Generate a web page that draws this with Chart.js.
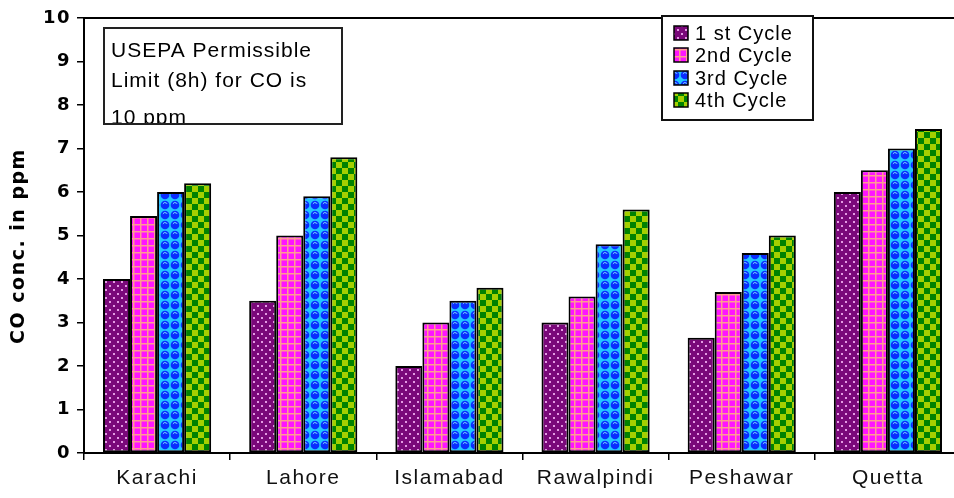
<!DOCTYPE html>
<html>
<head>
<meta charset="utf-8">
<script src="https://cdn.jsdelivr.net/npm/chart.js@4"></script>
<style>
  html, body { margin: 0; padding: 0; background: #fff; overflow: hidden; }
  #wrap { position: relative; width: 962px; height: 498px; }
</style>
</head>
<body>
<div id="wrap"><canvas id="chart"></canvas></div>
<script>
// Sampling sites
const cities = ['Karachi', 'Lahore', 'Islamabad', 'Rawalpindi', 'Peshawar', 'Quetta'];

// CO concentration (ppm) for each monitoring cycle
const cycle1 = [4.0, 3.5, 2.0, 3.0, 2.65, 6.0];
const cycle2 = [5.45, 5.0, 3.0, 3.6, 3.7, 6.5];
const cycle3 = [6.0, 5.9, 3.5, 4.8, 4.6, 7.0];
const cycle4 = [6.2, 6.8, 3.8, 5.6, 5.0, 7.45];

const seriesLabels = ['1 st Cycle', '2nd Cycle', '3rd Cycle', '4th Cycle'];
const yTicks = [0, 1, 2, 3, 4, 5, 6, 7, 8, 9, 10];
const axisTitle = 'CO conc. in ppm';
const noteLines = ['USEPA Permissible', 'Limit (8h) for CO is', '10 ppm'];

// Fill patterns for the four cycles
function makePattern(kind) {
  const c = document.createElement('canvas');
  const g = c.getContext('2d');
  if (kind === 'dots') {
    c.width = 8; c.height = 8;
    g.fillStyle = '#7a087a'; g.fillRect(0, 0, 8, 8);
    g.fillStyle = '#e49ae4';
    g.fillRect(1, 1, 2, 2); g.fillRect(5, 5, 2, 2);
  } else if (kind === 'grid') {
    c.width = 7; c.height = 7;
    g.fillStyle = '#ff14ff'; g.fillRect(0, 0, 7, 7);
    g.fillStyle = '#ff9c90';
    g.fillRect(0, 0, 7, 1.5); g.fillRect(0, 0, 1.5, 7);
  } else if (kind === 'bubbles') {
    c.width = 10; c.height = 10;
    g.fillStyle = '#22c4ff'; g.fillRect(0, 0, 10, 10);
    g.fillStyle = '#0a2cff';
    g.beginPath(); g.arc(5, 5, 4.3, 0, Math.PI * 2); g.fill();
    g.strokeStyle = '#7fdcff'; g.lineWidth = 1;
    g.beginPath(); g.arc(5, 5, 2.4, Math.PI * 1.15, Math.PI * 1.85); g.stroke();
  } else {
    c.width = 12; c.height = 12;
    g.fillStyle = '#a4d000'; g.fillRect(0, 0, 12, 12);
    g.fillStyle = '#008200';
    g.fillRect(0, 0, 6, 6); g.fillRect(6, 6, 6, 6);
  }
  return g.createPattern(c, 'repeat');
}

const fills = [makePattern('dots'), makePattern('grid'), makePattern('bubbles'), makePattern('checks')];
const seriesValues = [cycle1, cycle2, cycle3, cycle4];

const datasets = seriesLabels.map((label, i) => ({
  label: label,
  data: seriesValues[i],
  backgroundColor: fills[i],
  borderColor: '#000',
  borderWidth: 2,
  borderSkipped: false,
  categoryPercentage: 0.74,
  barPercentage: 1.0
}));

// Frame line, note box, legend box and rotated axis title
const decorations = {
  id: 'decorations',
  beforeDraw(chart) {
    chart.ctx.letterSpacing = '1.5px';
  },
  afterDraw(chart) {
    const ctx = chart.ctx;
    const area = chart.chartArea;
    ctx.save();
    ctx.letterSpacing = '0px';

    // top frame line
    ctx.strokeStyle = '#000';
    ctx.lineWidth = 2;
    ctx.beginPath();
    ctx.moveTo(area.left, area.top);
    ctx.lineTo(chart.width, area.top);
    ctx.stroke();

    // note box
    const nb = { l: 104, t: 28, r: 342, b: 124 };
    ctx.fillStyle = '#fff';
    ctx.fillRect(nb.l, nb.t, nb.r - nb.l, nb.b - nb.t);
    ctx.save();
    ctx.beginPath();
    ctx.rect(nb.l, nb.t, nb.r - nb.l, nb.b - nb.t);
    ctx.clip();
    ctx.fillStyle = '#000';
    ctx.font = '21px "Liberation Sans", Arial, sans-serif';
    ctx.letterSpacing = '1px';
    ctx.textAlign = 'left';
    ctx.textBaseline = 'alphabetic';
    const baselines = [57, 87, 124];
    noteLines.forEach((t, i) => ctx.fillText(t, nb.l + 7, baselines[i]));
    ctx.restore();
    ctx.strokeStyle = '#222';
    ctx.lineWidth = 2;
    ctx.strokeRect(nb.l, nb.t, nb.r - nb.l, nb.b - nb.t);

    // legend box
    const lb = { l: 662, t: 16, r: 813, b: 120 };
    ctx.fillStyle = '#fff';
    ctx.fillRect(lb.l, lb.t, lb.r - lb.l, lb.b - lb.t);
    ctx.strokeStyle = '#111';
    ctx.lineWidth = 2;
    ctx.strokeRect(lb.l, lb.t, lb.r - lb.l, lb.b - lb.t);
    ctx.font = '20px "Liberation Sans", Arial, sans-serif';
    ctx.letterSpacing = '1px';
    ctx.textBaseline = 'middle';
    const rows = [33, 55, 78, 100];
    chart.data.datasets.forEach((ds, i) => {
      const y = rows[i];
      ctx.fillStyle = ds.backgroundColor;
      ctx.fillRect(674, y - 7, 14, 14);
      ctx.strokeStyle = '#000';
      ctx.lineWidth = 1.5;
      ctx.strokeRect(674, y - 7, 14, 14);
      ctx.fillStyle = '#000';
      ctx.fillText(ds.label, 695, y + 1);
    });

    // y axis title
    ctx.save();
    ctx.translate(19, 246);
    ctx.rotate(-Math.PI / 2);
    ctx.font = 'bold 19px "DejaVu Sans", sans-serif';
    ctx.letterSpacing = '1.5px';
    ctx.textAlign = 'center';
    ctx.textBaseline = 'middle';
    ctx.fillStyle = '#000';
    ctx.fillText(axisTitle, 0, 0);
    ctx.restore();

    ctx.restore();
  }
};

new Chart(document.getElementById('chart'), {
  type: 'bar',
  data: { labels: cities, datasets: datasets },
  options: {
    responsive: true,
    maintainAspectRatio: false,
    animation: false,
    devicePixelRatio: 1,
    layout: { padding: { top: 18, right: 1, bottom: 0, left: 0 } },
    plugins: {
      legend: { display: false },
      tooltip: { enabled: false },
      title: { display: false }
    },
    scales: {
      x: {
        grid: { display: true, drawOnChartArea: false, offset: true, tickLength: 7, color: '#000', lineWidth: 1.5 },
        border: { display: true, color: '#000', width: 2 },
        ticks: {
          color: '#111',
          font: { family: '"Liberation Sans", Arial, sans-serif', size: 21 },
          padding: 6,
          maxRotation: 0
        },
        afterFit(s) { s.height = 45; }
      },
      y: {
        min: 0,
        max: 10,
        afterBuildTicks(s) { s.ticks = yTicks.map(v => ({ value: v })); },
        grid: { display: true, drawOnChartArea: false, tickLength: 7, color: '#000', lineWidth: 1.5 },
        border: { display: true, color: '#000', width: 2 },
        ticks: {
          color: '#000',
          font: { family: '"DejaVu Sans", sans-serif', size: 18, weight: 'bold' },
          padding: 6
        },
        afterFit(s) { s.width = 84; }
      }
    }
  },
  plugins: [decorations]
});
</script>
</body>
</html>
